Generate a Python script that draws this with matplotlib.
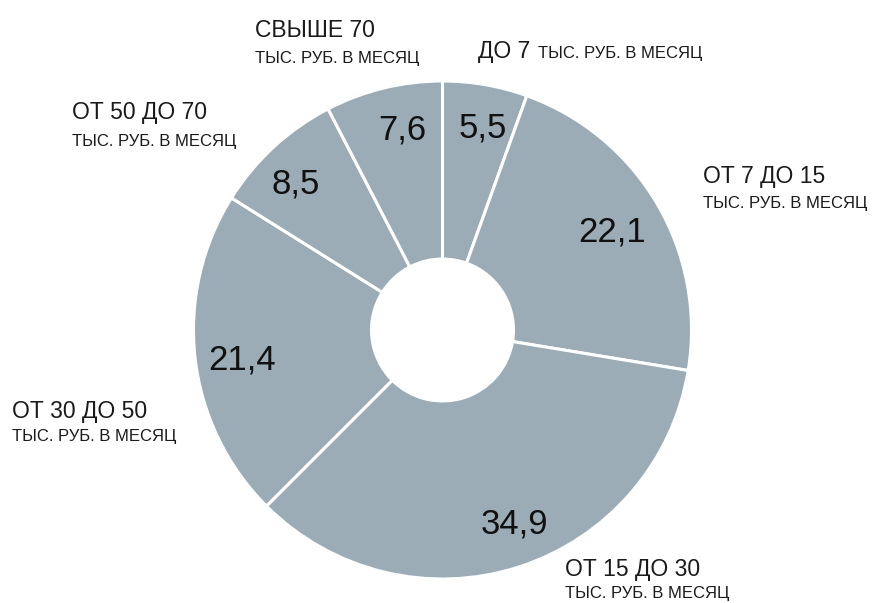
import matplotlib
matplotlib.use("Agg")
import matplotlib.pyplot as plt

# data
categories = ["ДО 7", "ОТ 7 ДО 15", "ОТ 15 ДО 30", "ОТ 30 ДО 50", "ОТ 50 ДО 70", "СВЫШЕ 70"]
values = [5.5, 22.1, 34.9, 21.4, 8.5, 7.6]
value_labels = ["5,5", "22,1", "34,9", "21,4", "8,5", "7,6"]
unit = "ТЫС. РУБ. В МЕСЯЦ"

# layout (pixel coordinates, y downward)
value_pos = [(483, 137), (612, 241), (514, 534), (242, 370), (296, 193), (402, 140)]
label_pos = {  # (x, title baseline, subtitle baseline)
    "ОТ 7 ДО 15": (703, 183, 208),
    "ОТ 15 ДО 30": (565, 576, 598),
    "ОТ 30 ДО 50": (12, 418, 441),
    "ОТ 50 ДО 70": (72, 119, 146),
    "СВЫШЕ 70": (255, 37, 63),
}

color = "#9BACB6"
txt = "#1a1a1a"
val_txt = "#111111"
font = "Liberation Sans"

fig = plt.figure(figsize=(8.75, 6.03), dpi=100)
ax = fig.add_axes([0, 0, 1, 1])
cx, cy, R, r_in = 442.5, 330, 249, 71
ax.pie(values, colors=[color] * len(values), startangle=-90, counterclock=True,
       center=(cx, cy), radius=R,
       wedgeprops=dict(width=R - r_in, edgecolor="white", linewidth=2.2),
       frame=True)
ax.set_xlim(0, 875)
ax.set_ylim(603, 0)
ax.set_aspect("equal", adjustable="box")
ax.axis("off")

for lab, (x, y) in zip(value_labels, value_pos):
    ax.text(x, y, lab, ha="center", va="baseline", fontsize=25, color=val_txt, family=font)

for cat in categories[1:]:
    x, y1, y2 = label_pos[cat]
    ax.text(x, y1, cat, ha="left", va="baseline", fontsize=16.5, color=txt, family=font)
    ax.text(x, y2, unit, ha="left", va="baseline", fontsize=12, color=txt, family=font)

# first category: title and unit on one line
ax.text(478, 58, categories[0], ha="left", va="baseline", fontsize=16.5, color=txt, family=font)
ax.text(538, 58, unit, ha="left", va="baseline", fontsize=12, color=txt, family=font)

fig.savefig("out.png", dpi=100, facecolor="white")
